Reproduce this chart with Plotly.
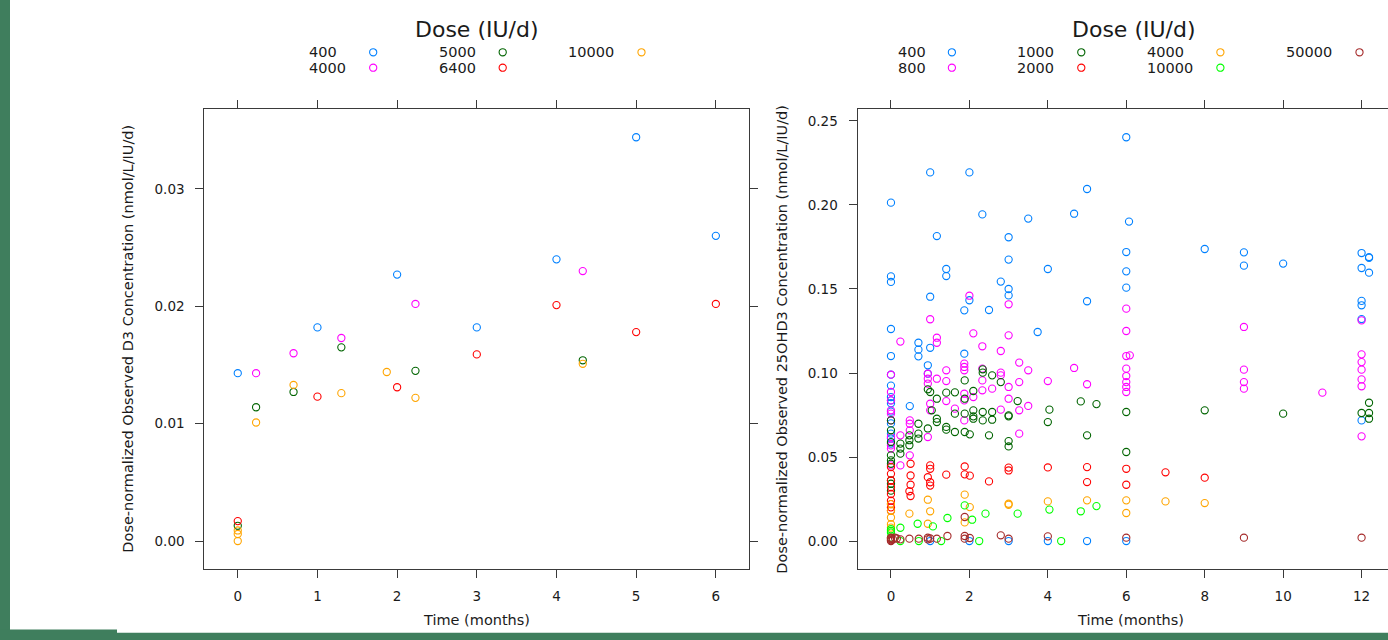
import plotly.graph_objects as go

# ------------------------------------------------------------------ data
# Left panel: dose-normalized observed D3 (time in months, value nmol/L/IU/d)
left_doses = ["400", "4000", "5000", "6400", "10000"]
left_colors = ["#0080ff", "#ff00ff", "#006400", "#ff0000", "#ffa500"]

d3_400 = [(0, 0.0143), (1, 0.0182), (2, 0.0227), (3, 0.0182), (4, 0.0240), (5, 0.0344), (6, 0.0260)]
d3_4000 = [(0.23, 0.0143), (0.70, 0.0160), (1.30, 0.0173), (2.23, 0.0202), (4.33, 0.0230)]
d3_5000 = [(0, 0.0013), (0.23, 0.0114), (0.70, 0.0127), (1.30, 0.0165), (2.23, 0.0145), (4.33, 0.0154)]
d3_6400 = [(0, 0.0017), (1, 0.0123), (2, 0.0131), (3, 0.0159), (4, 0.0201), (5, 0.0178), (6, 0.0202)]
d3_10000 = [(0, 0.0009), (0, 0.0006), (0, 0.0000), (0.23, 0.0101), (0.70, 0.0133), (1.30, 0.0126),
            (1.87, 0.0144), (2.23, 0.0122), (4.33, 0.0151)]

# Right panel: dose-normalized observed 25OHD3
right_doses = ["400", "800", "1000", "2000", "4000", "10000", "50000"]
right_colors = ["#0080ff", "#ff00ff", "#006400", "#ff0000", "#ffa500", "#00ff00", "#a52a2a"]

oh_400 = [(0, 0.2014), (0, 0.1575), (0, 0.1542), (0, 0.1262), (0, 0.1101), (0, 0.0990), (0, 0.0925),
          (0, 0.0857), (0, 0.0837), (0, 0.0820), (0, 0.0770), (0, 0.0700), (0, 0.0639), (0, 0.0610),
          (0, 0.0580), (0.48, 0.0803), (0.70, 0.1180), (0.70, 0.1139), (0.70, 0.1099), (0.94, 0.1046),
          (0.94, 0.0996), (1.0, 0.2194), (1.0, 0.1454), (1.0, 0.1150), (1.0, 0.0), (1.17, 0.1815),
          (1.41, 0.1619), (1.41, 0.1577), (1.87, 0.1373), (1.87, 0.1115), (2.0, 0.2194), (2.0, 0.1433),
          (2.0, 0.0), (2.33, 0.1944), (2.5, 0.1375), (2.8, 0.1544), (3.0, 0.1808), (3.0, 0.1675),
          (3.0, 0.1500), (3.0, 0.1462), (3.0, 0.0), (3.5, 0.1919), (3.74, 0.1244), (4.0, 0.1619),
          (4.0, 0.0), (4.67, 0.1948), (5.0, 0.2095), (5.0, 0.1427), (5.0, 0.0), (6.0, 0.2403),
          (6.0, 0.1720), (6.0, 0.1605), (6.0, 0.1508), (6.0, 0.0), (6.07, 0.1901), (8.0, 0.1738),
          (9.0, 0.1718), (9.0, 0.1639), (10.0, 0.1651), (12.0, 0.1714), (12.0, 0.1625), (12.0, 0.1429),
          (12.0, 0.1403), (12.0, 0.1321), (12.0, 0.0718), (12.19, 0.1690), (12.19, 0.1685), (12.19, 0.1597)]
oh_800 = [(0, 0.0990), (0, 0.0887), (0, 0.0837), (0, 0.0778), (0, 0.0758), (0, 0.0718), (0, 0.0619),
          (0, 0.0569), (0, 0.0550), (0, 0.0450), (0.24, 0.1187), (0.24, 0.0629), (0.24, 0.0450),
          (0.48, 0.0718), (0.48, 0.0698), (0.48, 0.0659), (0.48, 0.0510), (0.94, 0.0996), (0.94, 0.0966),
          (0.94, 0.0937), (0.94, 0.0619), (1.0, 0.1320), (1.0, 0.0817), (1.0, 0.0778), (1.17, 0.1210),
          (1.17, 0.1180), (1.17, 0.0966), (1.41, 0.1016), (1.41, 0.0952), (1.41, 0.0833), (1.63, 0.0788),
          (1.87, 0.1056), (1.87, 0.1036), (1.87, 0.1016), (1.87, 0.0877), (1.87, 0.0837), (1.87, 0.0718),
          (2.0, 0.1460), (2.1, 0.0857), (2.1, 0.1236), (2.33, 0.1159), (2.33, 0.1026), (2.33, 0.0956),
          (2.33, 0.0897), (2.58, 0.0907), (2.8, 0.1131), (2.8, 0.1002), (2.8, 0.0986), (2.8, 0.0782),
          (3.0, 0.1409), (3.0, 0.1224), (3.0, 0.0917), (3.0, 0.0847), (3.27, 0.1062), (3.27, 0.0946),
          (3.27, 0.0778), (3.27, 0.0639), (3.5, 0.1016), (3.5, 0.0804), (4.0, 0.0952), (4.67, 0.1030),
          (5.0, 0.0933), (6.0, 0.1383), (6.0, 0.1250), (6.0, 0.1101), (6.0, 0.1026), (6.0, 0.0982),
          (6.0, 0.0946), (6.0, 0.0917), (6.0, 0.0887), (6.09, 0.1105), (9.0, 0.1274), (9.0, 0.1020),
          (9.0, 0.0946), (9.0, 0.0907), (11.0, 0.0883), (12.0, 0.1313), (12.0, 0.1111), (12.0, 0.1065),
          (12.0, 0.1020), (12.0, 0.0962), (12.0, 0.0921), (12.0, 0.0623)]
oh_1000 = [(0, 0.0718), (0, 0.0659), (0, 0.0589), (0, 0.0510), (0, 0.0480), (0, 0.0460), (0, 0.0361),
           (0, 0.0341), (0, 0.0300), (0.24, 0.0580), (0.24, 0.0550), (0.24, 0.0520), (0.47, 0.0629),
           (0.47, 0.0600), (0.47, 0.0570), (0.70, 0.0698), (0.70, 0.0639), (0.70, 0.0610), (0.94, 0.0903),
           (0.94, 0.0670), (1.0, 0.0887), (1.04, 0.0778), (1.17, 0.0847), (1.17, 0.0728), (1.17, 0.0708),
           (1.41, 0.0883), (1.41, 0.0679), (1.41, 0.0663), (1.63, 0.0885), (1.63, 0.0758), (1.63, 0.0649),
           (1.88, 0.0956), (1.88, 0.0847), (1.88, 0.0758), (1.88, 0.0649), (2.01, 0.0635), (2.1, 0.0893),
           (2.1, 0.0778), (2.1, 0.0742), (2.1, 0.0728), (2.34, 0.1022), (2.34, 0.1002), (2.34, 0.0768),
           (2.34, 0.0718), (2.5, 0.0629), (2.58, 0.0986), (2.58, 0.0768), (2.58, 0.0722), (2.8, 0.0946),
           (3.0, 0.0748), (3.0, 0.0742), (3.0, 0.0595), (3.0, 0.0563), (3.23, 0.0833), (4.0, 0.0708),
           (4.04, 0.0782), (4.84, 0.0831), (5.0, 0.0629), (5.24, 0.0815), (6.0, 0.0768), (6.0, 0.0530),
           (8.0, 0.0778), (10.0, 0.0758), (12.0, 0.0762), (12.19, 0.0823), (12.19, 0.0762), (12.19, 0.0728)]
oh_2000 = [(0, 0.0440), (0, 0.0400), (0, 0.0360), (0, 0.0320), (0, 0.0280), (0, 0.0240), (0, 0.0220),
           (0, 0.0200), (0, 0.0180), (0.47, 0.0296), (0.5, 0.0460), (0.5, 0.0390), (0.5, 0.0335),
           (0.5, 0.0268), (0.94, 0.0380), (1.0, 0.0450), (1.0, 0.0430), (1.0, 0.0350), (1.0, 0.0330),
           (1.41, 0.0395), (1.88, 0.0444), (1.88, 0.0397), (2.01, 0.0389), (2.5, 0.0355), (3.0, 0.0437),
           (3.0, 0.0420), (4.0, 0.0438), (5.0, 0.0440), (5.0, 0.0351), (6.0, 0.0430), (6.0, 0.0335),
           (7.0, 0.0409), (8.0, 0.0377)]
oh_4000 = [(0, 0.0220), (0, 0.0180), (0, 0.0140), (0, 0.0100), (0, 0.0080), (0.47, 0.0163), (0.94, 0.0246),
           (0.94, 0.0103), (1.0, 0.0177), (1.88, 0.0276), (1.88, 0.0111), (2.01, 0.0202), (3.0, 0.0222),
           (3.0, 0.0216), (4.0, 0.0236), (5.0, 0.0242), (6.0, 0.0242), (6.0, 0.0167), (7.0, 0.0236),
           (8.0, 0.0226)]
oh_10000 = [(0, 0.0070), (0, 0.0060), (0, 0.0050), (0, 0.0020), (0.24, 0.0079), (0.24, 0.0), (0.68, 0.0103),
            (0.71, 0.0), (1.07, 0.0087), (1.28, 0.0), (1.44, 0.0137), (1.88, 0.0212), (2.07, 0.0127),
            (2.25, 0.0), (2.41, 0.0163), (3.23, 0.0163), (4.04, 0.0187), (4.34, 0.0), (4.84, 0.0177),
            (5.24, 0.0208)]
oh_50000 = [(0, 0.0), (0, 0.0010), (0, 0.0020), (0, 0.0005), (0, 0.0015), (0.05, 0.0010), (0.10, 0.0020),
            (0.15, 0.0015), (0.24, 0.0010), (0.47, 0.0014), (0.71, 0.0014), (0.94, 0.0020), (0.94, 0.0010),
            (1.0, 0.0015), (1.17, 0.0014), (1.44, 0.0030), (1.88, 0.0143), (1.88, 0.0030), (1.88, 0.0014),
            (2.01, 0.0018), (2.8, 0.0034), (3.0, 0.0014), (4.0, 0.0028), (6.0, 0.0020), (9.0, 0.0020),
            (12.0, 0.0020)]

left_series = [d3_400, d3_4000, d3_5000, d3_6400, d3_10000]
right_series = [oh_400, oh_800, oh_1000, oh_2000, oh_4000, oh_10000, oh_50000]

left_xticks = [0, 1, 2, 3, 4, 5, 6]
left_yticks = [0.00, 0.01, 0.02, 0.03]
right_xticks = [0, 2, 4, 6, 8, 10, 12]
right_yticks = [0.00, 0.05, 0.10, 0.15, 0.20, 0.25]

legend_title = "Dose (IU/d)"
x_title = "Time (months)"
left_y_title = "Dose-normalized Observed D3 Concentration (nmol/L/IU/d)"
right_y_title = "Dose-normalized Observed 25OHD3 Concentration (nmol/L/IU/d)"

# ------------------------------------------------------------------ layout geometry (pixels)
W, H = 1388, 640
FONT = "DejaVu Sans"
PANEL_W = 545.0
LEFT_X0 = 204.3
RIGHT_X0 = 857.5
TOP, BOT = 109.0, 569.3
BG_GREEN = "#3f7e5d"
LINE = "#3a3a3a"
TXT = "#1a1a1a"


def fx(px):
    return px / W


def fy(py):
    return 1 - py / H


def extended(series, pad=0.07):
    xs = [p[0] for s in series for p in s]
    ys = [p[1] for s in series for p in s]
    xr = [min(xs) - pad * (max(xs) - min(xs)), max(xs) + pad * (max(xs) - min(xs))]
    yr = [min(ys) - pad * (max(ys) - min(ys)), max(ys) + pad * (max(ys) - min(ys))]
    return xr, yr


lx, ly = extended(left_series)
rx, ry = extended(right_series)
# right panel is cut by the window edge
vis = (W - RIGHT_X0) / PANEL_W
rx_vis = [rx[0], rx[0] + (rx[1] - rx[0]) * vis]

fig = go.Figure()


def add_panel(series, names, colors, xa, ya):
    for s, n, c in zip(series, names, colors):
        fig.add_trace(go.Scatter(
            x=[p[0] for p in s], y=[p[1] for p in s], mode="markers",
            xaxis=xa, yaxis=ya, name=n, showlegend=False,
            marker=dict(symbol="circle-open", size=7.2, color=c, line=dict(width=1.1, color=c)),
        ))


add_panel(left_series, left_doses, left_colors, "x", "y")
add_panel(right_series, right_doses, right_colors, "x2", "y2")

ax = dict(showline=True, linecolor=LINE, linewidth=1, ticks="outside", ticklen=8, tickwidth=1,
          tickcolor=LINE, showgrid=False, zeroline=False,
          tickfont=dict(family=FONT, size=13.5, color=TXT))

fig.update_layout(
    width=W, height=H, autosize=False,
    margin=dict(l=0, r=0, t=0, b=0, pad=0),
    paper_bgcolor="white", plot_bgcolor="white",
    font=dict(family=FONT, color=TXT),
    xaxis=dict(ax, domain=[fx(LEFT_X0), fx(LEFT_X0 + PANEL_W)], range=lx, tickvals=left_xticks,
               mirror="ticks", anchor="y", ticklabelstandoff=6),
    yaxis=dict(ax, domain=[fy(BOT), fy(TOP)], range=ly, tickvals=left_yticks, tickformat=".2f",
               mirror="ticks", anchor="x", ticklabelstandoff=8),
    xaxis2=dict(ax, domain=[fx(RIGHT_X0), 1.0], range=rx_vis, tickvals=right_xticks,
                mirror="ticks", anchor="y2", ticklabelstandoff=6),
    yaxis2=dict(ax, domain=[fy(BOT), fy(TOP)], range=ry, tickvals=right_yticks, tickformat=".2f",
                mirror=False, anchor="x2", ticklabelstandoff=8),
)

shapes = []
annotations = []

# background frame (green strips)
shapes.append(dict(type="rect", xref="paper", yref="paper", x0=fx(0), x1=fx(10), y0=fy(H), y1=fy(0),
                   fillcolor=BG_GREEN, line=dict(width=0), layer="above"))
shapes.append(dict(type="rect", xref="paper", yref="paper", x0=fx(0), x1=fx(117), y0=fy(H), y1=fy(629.5),
                   fillcolor=BG_GREEN, line=dict(width=0), layer="above"))
shapes.append(dict(type="rect", xref="paper", yref="paper", x0=fx(117), x1=fx(W), y0=fy(H), y1=fy(632.7),
                   fillcolor=BG_GREEN, line=dict(width=0), layer="above"))

# legends (lattice-style key: label then symbol, column-major, 2 rows)
ROW_Y = [52.3, 67.7]
legend_specs = [
    (left_doses, left_colors, [307.1, 436.6, 566.0], [373.2, 502.7, 641.5], 476.5),
    (right_doses, right_colors, [895.7, 1015.0, 1144.5, 1284.0], [951.9, 1081.3, 1220.4, 1359.5], 1133.5),
]
for names, colors, text_x, sym_x, title_x in legend_specs:
    annotations.append(dict(text=legend_title, xref="paper", yref="paper", x=fx(title_x), y=fy(29.5),
                            showarrow=False, xanchor="center", yanchor="middle",
                            font=dict(family=FONT, size=22, color=TXT)))
    for i, (n, c) in enumerate(zip(names, colors)):
        col, row = divmod(i, 2)
        annotations.append(dict(text=n, xref="paper", yref="paper", x=fx(text_x[col]), y=fy(ROW_Y[row]),
                                showarrow=False, xanchor="left", yanchor="middle",
                                font=dict(family=FONT, size=14.5, color=TXT)))
        shapes.append(dict(type="circle", xref="paper", yref="paper", xsizemode="pixel", ysizemode="pixel",
                           xanchor=fx(sym_x[col]), yanchor=fy(ROW_Y[row]), x0=-3.6, x1=3.6, y0=-3.6, y1=3.6,
                           line=dict(color=c, width=1.1)))

# axis titles
for cx in (LEFT_X0 + PANEL_W / 2, RIGHT_X0 + PANEL_W / 2):
    annotations.append(dict(text=x_title, xref="paper", yref="paper", x=fx(cx), y=fy(620),
                            showarrow=False, xanchor="center", yanchor="middle",
                            font=dict(family=FONT, size=14.5, color=TXT)))
for cx, t in ((128.5, left_y_title), (782.5, right_y_title)):
    annotations.append(dict(text=t, xref="paper", yref="paper", x=fx(cx), y=fy((TOP + BOT) / 2),
                            showarrow=False, xanchor="center", yanchor="middle", textangle=-90,
                            font=dict(family=FONT, size=14.5, color=TXT)))

fig.update_layout(shapes=shapes, annotations=annotations)
fig.write_html("out.html")
